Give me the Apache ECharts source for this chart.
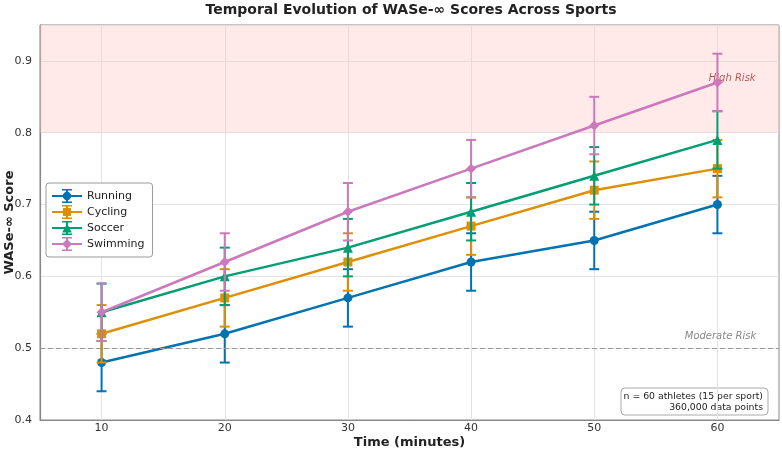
<!DOCTYPE html>
<html><head><meta charset="utf-8">
<script src="https://cdn.jsdelivr.net/npm/echarts@6/dist/echarts.min.js"></script>
<style>html,body{margin:0;padding:0;background:#fff}#c{width:782px;height:452px}</style>
</head><body><div id="c"></div>
<script>
const times = [10, 20, 30, 40, 50, 60];
const sports = ['Running', 'Cycling', 'Soccer', 'Swimming'];
const running = [0.48, 0.52, 0.57, 0.62, 0.65, 0.70];
const cycling = [0.52, 0.57, 0.62, 0.67, 0.72, 0.75];
const soccer = [0.55, 0.60, 0.64, 0.69, 0.74, 0.79];
const swimming = [0.55, 0.62, 0.69, 0.75, 0.81, 0.87];
const runningErr = [0.04, 0.04, 0.04, 0.04, 0.04, 0.04];
const cyclingErr = [0.04, 0.04, 0.04, 0.04, 0.04, 0.04];
const soccerErr = [0.04, 0.04, 0.04, 0.04, 0.04, 0.04];
const swimmingErr = [0.04, 0.04, 0.04, 0.04, 0.04, 0.04];
const yTicks = [0.4, 0.5, 0.6, 0.7, 0.8, 0.9];
const highRiskThreshold = 0.8;
const moderateRiskThreshold = 0.5;

const values = [running, cycling, soccer, swimming];
const errs = [runningErr, cyclingErr, soccerErr, swimmingErr];
const colors = ['#0173b2', '#de8f05', '#029e73', '#cc78bc'];
const symbols = ['circle', 'rect', 'triangle', 'diamond'];
const symSizes = [9, 9, 10, 10];
const base = 'M0 7h30v2H0z M14 1h2v14h-2z M10 1h10v1.6H10z M10 13.4h10v1.6H10z ';
const markerPaths = [
  'M10.8 8 A4.2 4.2 0 1 1 19.2 8 A4.2 4.2 0 1 1 10.8 8z',
  'M11 4h8v8h-8z',
  'M15 3.5L19.8 12.5L10.2 12.5z',
  'M15 3L20 8L15 13L10 8z'
];

const series = [];
sports.forEach((name, i) => {
  const pts = times.map((t, j) => [t, values[i][j], errs[i][j]]);
  series.push({
    type: 'custom', name: name + ' err', silent: true, z: 2 + i * 2,
    data: pts,
    renderItem: function (params, api) {
      const x = api.value(0), y = api.value(1), e = api.value(2);
      const top = api.coord([x, y + e]);
      const bot = api.coord([x, y - e]);
      const st = { stroke: colors[i], lineWidth: 2 };
      return { type: 'group', children: [
        { type: 'line', shape: { x1: top[0], y1: top[1], x2: bot[0], y2: bot[1] }, style: st },
        { type: 'line', shape: { x1: top[0] - 5, y1: top[1], x2: top[0] + 5, y2: top[1] }, style: st },
        { type: 'line', shape: { x1: bot[0] - 5, y1: bot[1], x2: bot[0] + 5, y2: bot[1] }, style: st }
      ]};
    }
  });
  series.push({
    type: 'line', name: name, z: 3 + i * 2,
    data: times.map((t, j) => [t, values[i][j]]),
    symbol: symbols[i], symbolSize: symSizes[i], showSymbol: true,
    lineStyle: { color: colors[i], width: 2.5 },
    itemStyle: { color: colors[i] },
    emphasis: { disabled: true }
  });
});

series.push({
  type: 'line', name: 'ref', data: [], silent: true, z: 1,
  markArea: {
    silent: true,
    itemStyle: { color: 'rgba(255,200,200,0.4)' },
    data: [[{ yAxis: highRiskThreshold }, { yAxis: 0.95 }]]
  },
  markLine: {
    silent: true, symbol: 'none',
    lineStyle: { color: '#999', type: [5, 3], width: 1.2 },
    label: { show: false },
    data: [{ yAxis: moderateRiskThreshold }]
  },
  markPoint: {
    silent: true, symbol: 'circle', symbolSize: 0,
    data: [
      { coord: [61.2, 0.875], label: { show: true, formatter: 'High Risk', color: '#b05a5a', fontStyle: 'italic', fontSize: 10, fontFamily: 'DejaVu Sans', position: 'inside' } },
      { coord: [60.25, 0.517], label: { show: true, formatter: 'Moderate Risk', color: '#888', fontStyle: 'italic', fontSize: 10, fontFamily: 'DejaVu Sans', position: 'inside' } }
    ]
  }
});

const chart = echarts.init(document.getElementById('c'), null, { renderer: 'canvas' });
chart.setOption({
  animation: false,
  backgroundColor: '#fff',
  textStyle: { fontFamily: 'DejaVu Sans' },
  title: {
    text: 'Temporal Evolution of WASe-∞ Scores Across Sports',
    left: 406, top: -2, textAlign: 'center',
    textStyle: { fontSize: 14, fontWeight: 'bold', color: '#222', fontFamily: 'DejaVu Sans' }
  },
  grid: { left: 40, right: 3, top: 25, bottom: 32, show: true, borderColor: '#888', borderWidth: 1, containLabel: false, outerBoundsMode: 'none' },
  legend: {
    orient: 'vertical', left: 46, top: 183,
    data: sports.map((s, i) => ({ name: s, icon: 'path://' + base + markerPaths[i], itemStyle: { color: colors[i] } })),
    itemWidth: 30, itemHeight: 16, itemGap: 2,
    padding: [6, 8, 6, 6],
    backgroundColor: '#fff', borderColor: '#999', borderWidth: 1, borderRadius: 3,
    textStyle: { fontSize: 11, color: '#222', fontFamily: 'DejaVu Sans' },
    selectedMode: false
  },
  xAxis: {
    type: 'value', min: 5, max: 65,
    name: 'Time (minutes)', nameLocation: 'middle', nameGap: 16, nameMoveOverlap: false,
    nameTextStyle: { fontSize: 13, fontWeight: 'bold', color: '#222' },
    axisLine: { show: true, lineStyle: { color: '#888', width: 1.2 } },
    axisTick: { show: false, customValues: times },
    axisLabel: { customValues: times, color: '#333', fontSize: 11, margin: 3 },
    splitLine: { show: true, lineStyle: { color: '#e3e3e3', width: 1 } }
  },
  yAxis: {
    type: 'value', min: 0.4, max: 0.95, interval: 0.1,
    name: 'WASe-∞ Score', nameLocation: 'middle', nameGap: 24, nameMoveOverlap: false,
    nameTextStyle: { fontSize: 13, fontWeight: 'bold', color: '#222' },
    axisLine: { show: true, lineStyle: { color: '#888', width: 1.2 } },
    axisTick: { show: false },
    axisLabel: { color: '#333', fontSize: 11, margin: 8, formatter: v => yTicks.includes(Math.round(v * 10) / 10) ? v.toFixed(1) : '' },
    splitLine: { show: true, lineStyle: { color: '#e3e3e3', width: 1 } }
  },
  graphic: [
    {
      type: 'group', x: 621, y: 388, children: [
        { type: 'rect', shape: { x: 0, y: 0, width: 147, height: 27, r: 4 }, style: { fill: '#fff', stroke: '#aaa', lineWidth: 1 } },
        { type: 'text', x: 142, y: 3, style: { text: 'n = 60 athletes (15 per sport)\n360,000 data points', align: 'right', fontSize: 9.3, lineHeight: 11, fill: '#222', fontFamily: 'DejaVu Sans' } }
      ]
    }
  ],
  series: series
});
</script></body></html>
